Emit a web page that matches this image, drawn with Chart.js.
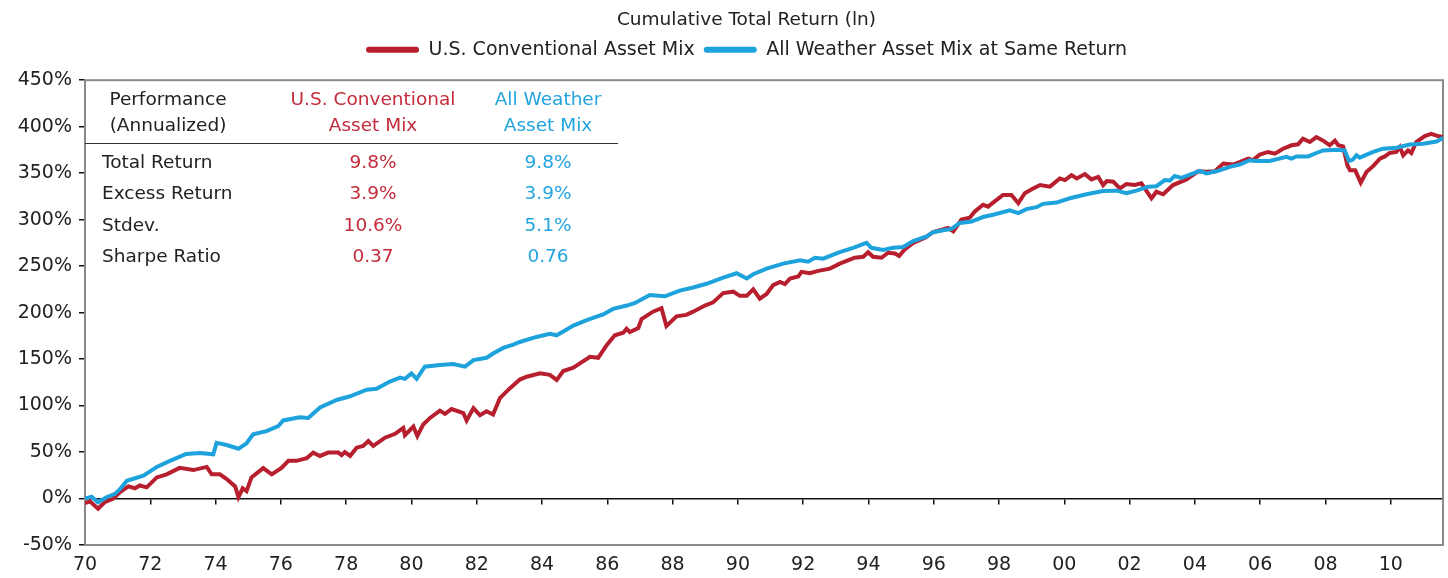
<!DOCTYPE html>
<html>
<head>
<meta charset="utf-8">
<script src="https://cdn.jsdelivr.net/npm/chart.js@4/dist/chart.umd.min.js"></script>
<style>
  html, body { margin: 0; padding: 0; background: #fff; }
  #wrap { position: relative; width: 1448px; height: 578px; }
  #perf { position: absolute; left: 0; top: 0; width: 1448px; height: 578px; pointer-events: none;
          font-family: "DejaVu Sans", sans-serif; font-size: 18.5px; color: #222; }
  #perf div { position: absolute; white-space: nowrap; line-height: 1; }
  .c { transform: translateX(-50%); text-align: center; }
  .red { color: #C42B3B; }
  .blue { color: #22A4DE; }
  #rule { position: absolute; left: 85px; top: 143px; width: 533px; height: 0; border-top: 1.5px solid #333; }
</style>
</head>
<body>
<div id="wrap">
  <canvas id="chart" width="1448" height="578"></canvas>
  <div id="perf"></div>
</div>
<script>
// ---- Data ----
const chartTitle = "Cumulative Total Return (ln)";
const seriesNames = ["U.S. Conventional Asset Mix", "All Weather Asset Mix at Same Return"];
const xTickLabels = ["70","72","74","76","78","80","82","84","86","88","90","92","94","96","98","00","02","04","06","08","10"];
const yTickLabels = ["-50%","0%","50%","100%","150%","200%","250%","300%","350%","400%","450%"];

const conventionalYears = [
  1970.0,1970.15,1970.4,1970.6,1970.87,1971.07,1971.33,1971.53,1971.68,1971.89,
  1972.2,1972.5,1972.9,1973.32,1973.73,1973.88,1974.13,1974.34,1974.6,1974.7,
  1974.83,1974.95,1975.1,1975.46,1975.72,1976.02,1976.23,1976.48,1976.79,1976.99,
  1977.2,1977.45,1977.76,1977.86,1977.96,1978.12,1978.32,1978.52,1978.68,1978.83,
  1979.19,1979.5,1979.75,1979.8,1980.06,1980.18,1980.36,1980.57,1980.87,1981.03,
  1981.23,1981.59,1981.69,1981.9,1982.1,1982.3,1982.5,1982.71,1983.02,1983.32,
  1983.53,1983.94,1984.24,1984.45,1984.65,1984.96,1985.16,1985.47,1985.72,1985.98,
  1986.23,1986.49,1986.59,1986.69,1986.95,1987.05,1987.4,1987.66,1987.81,1988.12,
  1988.42,1988.63,1988.99,1989.24,1989.55,1989.86,1990.06,1990.27,1990.47,1990.67,
  1990.88,1991.08,1991.29,1991.44,1991.6,1991.85,1991.95,1992.2,1992.46,1992.82,
  1993.12,1993.58,1993.84,1993.99,1994.14,1994.4,1994.6,1994.81,1994.94,1995.11,
  1995.37,1995.73,1995.98,1996.44,1996.6,1996.85,1997.1,1997.26,1997.51,1997.67,
  1997.77,1998.12,1998.38,1998.59,1998.79,1999.0,1999.26,1999.56,1999.86,2000.02,
  2000.22,2000.38,2000.63,2000.83,2001.04,2001.19,2001.3,2001.5,2001.7,2001.9,
  2002.16,2002.36,2002.67,2002.82,2003.03,2003.33,2003.74,2004.1,2004.35,2004.61,
  2004.87,2005.17,2005.37,2005.63,2005.78,2005.99,2006.24,2006.45,2006.7,2006.96,
  2007.16,2007.31,2007.52,2007.72,2007.93,2008.13,2008.29,2008.39,2008.54,2008.67,
  2008.75,2008.91,2009.08,2009.26,2009.46,2009.67,2009.82,2009.97,2010.17,2010.28,
  2010.38,2010.53,2010.63,2010.78,2011.04,2011.24,2011.45,2011.6
];
const conventionalValues = [
  -5,-3,-11,-4,0,7,13,11,14,12,
  22.7,26,33,30.6,34,26,26,21,13,1.4,
  11,8,22.7,32.7,26,33,40.5,40.5,43.4,49.4,
  45.8,49.4,49.4,46.6,50,45.8,54.7,56.5,61.8,56.5,
  65.4,69.6,76,68.2,77.5,67.2,79.6,86.7,94.6,91,
  96.3,92,84,97.3,89.6,93.8,90.3,108,118.7,128,
  131,134.6,133,127.6,137.2,140.7,145.3,152.5,151.4,165,
  175.6,178.4,182.6,179,183.4,193,201,204.7,185.5,196,
  197.5,201,207.6,211,221,222.5,218,218,225,215,
  220,229.5,233,230.6,236.7,238.8,243.8,242.3,244.9,247.3,
  252.7,259,260,265,260,259,264.4,263.6,260.9,268,
  275,280.4,286.5,291,287.5,300,302,308.8,316,314,
  317,326.5,326.5,317.7,328.4,332.6,337.2,335.5,344.3,342.5,
  347.9,344.3,349,343.3,346,337.2,341.5,340.8,333.7,338.3,
  337.2,339,323,330,327.3,337.2,343.3,352,351.5,352,
  360.3,359.3,362,365.7,364,370,372.8,371,376.3,380,
  381,387,383.5,388.8,385,380,385,380,378.8,358.5,
  353.2,353.2,339.8,351.5,357.5,365.7,368,371.7,372.8,378,
  369.2,374.5,371.7,383.5,389.9,392.3,389.9,388.8
];

const allWeatherYears = [
  1970.0,1970.2,1970.4,1970.66,1970.92,1971.07,1971.28,1971.79,1972.2,1972.6,
  1973.1,1973.52,1973.93,1974.03,1974.34,1974.7,1974.95,1975.15,1975.56,1975.92,
  1976.07,1976.58,1976.84,1977.2,1977.71,1978.12,1978.63,1978.93,1979.34,1979.65,
  1979.8,1980.0,1980.16,1980.41,1980.87,1981.28,1981.64,1981.9,1982.3,1982.5,
  1982.81,1983.12,1983.32,1983.83,1984.24,1984.45,1984.96,1985.37,1985.87,1986.18,
  1986.6,1986.85,1987.3,1987.76,1988.22,1988.63,1989.04,1989.55,1989.96,1990.27,
  1990.47,1990.88,1991.39,1991.9,1992.15,1992.36,1992.61,1993.12,1993.53,1993.94,
  1994.09,1994.45,1994.76,1995.06,1995.37,1995.78,1995.98,1996.29,1996.54,1996.8,
  1997.16,1997.51,1997.82,1998.33,1998.59,1998.84,1999.15,1999.35,1999.76,2000.17,
  2000.68,2001.19,2001.6,2001.9,2002.21,2002.57,2002.82,2003.08,2003.23,2003.38,
  2003.59,2003.95,2004.15,2004.35,2004.66,2005.07,2005.37,2005.68,2005.88,2006.29,
  2006.8,2006.96,2007.11,2007.47,2007.72,2007.93,2008.34,2008.59,2008.72,2008.84,
  2008.95,2009.05,2009.46,2009.76,2010.17,2010.58,2010.99,2011.4,2011.6
];
const allWeatherValues = [
  0,2,-4,1.4,5,10,19,24.5,34,40.5,
  48,49,47.6,60,57.6,53.6,59.4,69,72.5,77.8,
  84,87.4,86.7,98,106,110,117,118,125.8,130,
  128.7,134.6,128.7,141.8,143.6,144.7,141.8,148.9,151.4,156,
  162,165.6,168.4,173.8,177.3,175.6,186,192,198,204,
  207.6,210.4,219,217.5,223.6,227,231,237.7,242.3,236.7,
  241.3,247.3,252.7,256.2,254.8,259,258,265,269.7,275,
  269.7,267.3,269.7,270.5,276.9,282,286.5,288.6,290,296.4,
  298,302.8,305.3,310,307,311.3,313.4,317,318.4,323,
  327.3,330.8,331.2,328.4,331.2,335.5,336,342.5,342,347,
  345,349.7,352.5,349.7,352,356.8,359.3,363.9,363.2,363.2,
  367.5,365.7,368,368,371.7,374.5,375.3,374.5,363.2,364.6,
  369.2,366.7,372.8,376.3,377.4,380.9,381.7,384,388
];

// Performance table
const perfHeader = [["Performance","(Annualized)"],["U.S. Conventional","Asset Mix"],["All Weather","Asset Mix"]];
const perfRows = ["Total Return","Excess Return","Stdev.","Sharpe Ratio"];
const perfConventional = ["9.8%","3.9%","10.6%","0.37"];
const perfAllWeather = ["9.8%","3.9%","5.1%","0.76"];

const RED = "#B71F2E";
const BLUE = "#1DA2DC";
const FONT = "'DejaVu Sans', sans-serif";
const X_MIN = 1970, X_MAX = 2011.6;

function toPoints(xs, ys) { return xs.map((x, i) => ({ x: x, y: ys[i] })); }
function xTicksFromLabels(scale) { scale.ticks = xTickLabels.map((l, i) => ({ value: X_MIN + 2 * i })); }

// ---- table (HTML text) ----
(function buildTable() {
  const host = document.getElementById('perf');
  const add = (txt, left, top, cls) => {
    const d = document.createElement('div');
    d.textContent = txt;
    d.style.left = left + 'px';
    d.style.top = top + 'px';
    if (cls) d.className = cls;
    host.appendChild(d);
  };
  const colX = [168, 373, 548];
  const colCls = ["", "red", "blue"];
  perfHeader.forEach((lines, c) => {
    lines.forEach((t, r) => add(t, colX[c], 90 + r * 26, "c " + colCls[c]));
  });
  const rule = document.createElement('div');
  rule.id = 'rule';
  host.appendChild(rule);
  perfRows.forEach((t, r) => {
    const top = 153 + r * 31.3;
    add(t, 102, top, "");
    add(perfConventional[r], colX[1], top, "c red");
    add(perfAllWeather[r], colX[2], top, "c blue");
  });
})();

// ---- frame + header shift plugin ----
const framePlugin = {
  id: 'frame',
  afterLayout(chart) {
    const shift = 25;
    [chart.titleBlock, chart.legend].forEach(b => { if (b) { b.left += shift; b.right += shift; } });
  },
  beforeDatasetsDraw(chart) {
    const a = chart.chartArea, ctx = chart.ctx;
    ctx.save();
    ctx.strokeStyle = '#8a8a8a';
    ctx.lineWidth = 2;
    ctx.strokeRect(a.left, a.top, a.right - a.left, a.bottom - a.top);
    ctx.restore();
  }
};

new Chart(document.getElementById('chart'), {
  type: 'line',
  data: {
    datasets: [
      { label: seriesNames[0], data: toPoints(conventionalYears, conventionalValues),
        borderColor: RED, backgroundColor: RED, borderWidth: 4, pointRadius: 0, tension: 0, order: 1 },
      { label: seriesNames[1], data: toPoints(allWeatherYears, allWeatherValues),
        borderColor: BLUE, backgroundColor: BLUE, borderWidth: 4, pointRadius: 0, tension: 0, order: 0 }
    ]
  },
  options: {
    responsive: false,
    animation: false,
    layout: { padding: { left: 0, right: 5, top: 0, bottom: 0 } },
    plugins: {
      tooltip: { enabled: false },
      title: { display: true, text: chartTitle, color: '#222',
               font: { family: FONT, size: 18.5, weight: 'normal' }, padding: { top: 9, bottom: 0 } },
      legend: {
        display: true, position: 'top',
        labels: {
          color: '#222', font: { family: FONT, size: 19 },
          boxWidth: 53, boxHeight: 6, padding: 9, useBorderRadius: true, borderRadius: 3,
          sort: (a, b) => a.datasetIndex - b.datasetIndex,
          generateLabels: (chart) => chart.data.datasets.map((ds, i) => ({
            text: ds.label, fillStyle: ds.borderColor, strokeStyle: ds.borderColor,
            lineWidth: 0, hidden: false, datasetIndex: i, borderRadius: 3, fontColor: '#222'
          }))
        }
      }
    },
    scales: {
      x: {
        type: 'linear', min: X_MIN, max: X_MAX,
        border: { display: false },
        grid: { display: false, drawTicks: false },
        afterBuildTicks: xTicksFromLabels,
        ticks: {
          autoSkip: false, maxRotation: 0, padding: 9,
          color: '#222', font: { family: FONT, size: 19 },
          callback: (v) => xTickLabels[Math.round((v - X_MIN) / 2)]
        },
        afterFit: (s) => { s.height = 33; }
      },
      xTop: {
        type: 'linear', min: X_MIN, max: X_MAX, position: 'top',
        border: { display: false }, grid: { display: false, drawTicks: false },
        ticks: { display: false },
        afterFit: (s) => { s.height = 11; }
      },
      x0: {
        type: 'linear', min: X_MIN, max: X_MAX, position: { y: 0 },
        border: { display: true, color: '#111', width: 1.5 },
        grid: { display: true, drawOnChartArea: false, drawTicks: true, tickLength: 5, color: '#111', lineWidth: 1.5 },
        afterBuildTicks: xTicksFromLabels,
        ticks: { display: false }
      },
      y: {
        type: 'linear', min: -50, max: 450,
        border: { display: false },
        grid: { display: true, drawOnChartArea: false, drawTicks: true, tickLength: 6, color: '#111', lineWidth: 1.5 },
        ticks: {
          stepSize: 50, padding: 7, color: '#222', font: { family: FONT, size: 19 },
          callback: (v) => yTickLabels[Math.round((v + 50) / 50)]
        },
        afterFit: (s) => { s.width = 85; }
      }
    }
  },
  plugins: [framePlugin]
});
</script>
</body>
</html>
